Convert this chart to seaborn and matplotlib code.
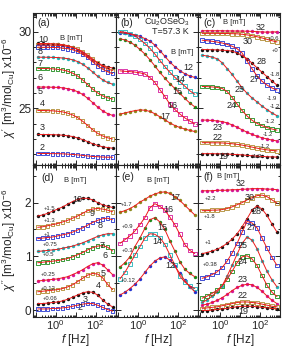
import matplotlib
matplotlib.use("Agg")
import matplotlib.pyplot as plt
import numpy as np
import pandas as pd
import seaborn as sns
from matplotlib.ticker import MultipleLocator, LogLocator, NullFormatter

# ---------------- data ----------------
F_HZ = [0.126, 0.224, 0.398, 0.708, 1.26, 2.24, 3.98, 7.08, 12.6, 22.4, 39.8, 70.8, 126, 224, 398, 708]

# (a) chi' , B = 10..2 mT
a_10 = [29.24, 29.24, 29.23, 29.22, 29.20, 29.16, 29.10, 28.99, 28.84, 28.64, 28.40, 28.16, 27.96, 27.81, 27.70, 27.64]
a_9 = [29.15, 29.14, 29.14, 29.13, 29.12, 29.09, 29.05, 28.98, 28.87, 28.71, 28.48, 28.23, 27.97, 27.74, 27.58, 27.47]
a_8 = [29.00, 28.99, 28.99, 28.98, 28.97, 28.94, 28.90, 28.83, 28.71, 28.54, 28.32, 28.05, 27.78, 27.56, 27.39, 27.27]
a_7 = [28.35, 28.34, 28.34, 28.33, 28.32, 28.29, 28.25, 28.17, 28.06, 27.88, 27.65, 27.38, 27.10, 26.87, 26.69, 26.58]
a_6 = [27.61, 27.61, 27.60, 27.58, 27.55, 27.51, 27.43, 27.30, 27.11, 26.86, 26.56, 26.26, 26.01, 25.82, 25.69, 25.61]
a_5 = [26.40, 26.39, 26.39, 26.38, 26.37, 26.34, 26.29, 26.21, 26.09, 25.91, 25.66, 25.38, 25.09, 24.84, 24.66, 24.54]
a_4 = [24.86, 24.86, 24.85, 24.84, 24.81, 24.77, 24.69, 24.57, 24.40, 24.16, 23.89, 23.61, 23.37, 23.20, 23.08, 23.00]
a_3 = [23.30, 23.29, 23.29, 23.28, 23.27, 23.25, 23.21, 23.16, 23.07, 22.96, 22.83, 22.69, 22.58, 22.49, 22.44, 22.40]
a_2 = [22.05, 22.05, 22.05, 22.04, 22.04, 22.03, 22.01, 21.99, 21.96, 21.93, 21.89, 21.86, 21.84, 21.82, 21.81, 21.81]

# (b) chi' , B = 12..17 mT
b_12 = [29.95, 29.92, 29.87, 29.80, 29.70, 29.56, 29.40, 29.13, 28.78, 28.40, 28.03, 27.72, 27.47, 27.26, 27.12, 27.02]
b_14 = [30.02, 29.97, 29.88, 29.74, 29.50, 29.24, 28.93, 28.55, 28.13, 27.73, 27.36, 27.03, 26.74, 26.45, 26.15, 25.92]
b_15 = [29.55, 29.47, 29.33, 29.13, 28.85, 28.55, 28.18, 27.77, 27.35, 26.97, 26.62, 26.30, 25.98, 25.65, 25.35, 25.10]
b_16 = [27.45, 27.42, 27.40, 27.37, 27.32, 27.25, 27.02, 26.70, 26.22, 25.78, 25.28, 24.93, 24.63, 24.38, 24.17, 23.98]
b_17 = [24.62, 24.70, 24.78, 24.85, 24.90, 24.88, 24.80, 24.65, 24.45, 24.25, 24.05, 23.88, 23.75, 23.65, 23.56, 23.49]

# (c) chi' , B = 32..19 mT
c_32 = [30.07, 30.07, 30.07, 30.07, 30.07, 30.06, 30.06, 30.05, 30.05, 30.04, 30.03, 30.01, 29.99, 29.98, 29.99, 30.00]
c_30 = [29.90, 29.90, 29.90, 29.90, 29.89, 29.89, 29.88, 29.87, 29.84, 29.80, 29.75, 29.68, 29.60, 29.51, 29.42, 29.34]
c_28 = [28.84, 28.84, 28.83, 28.82, 28.80, 28.78, 28.74, 28.62, 28.45, 28.25, 27.95, 27.65, 27.36, 27.07, 26.78, 26.52]
c_27 = [29.45, 29.42, 29.38, 29.33, 29.27, 29.18, 29.06, 28.90, 28.62, 28.10, 27.58, 27.12, 26.77, 26.52, 26.33, 26.20]
c_25 = [28.47, 28.42, 28.35, 28.24, 27.98, 27.60, 27.22, 26.78, 26.35, 25.98, 25.68, 25.42, 25.15, 24.92, 24.70, 24.52]
c_24 = [26.43, 26.42, 26.40, 26.37, 26.30, 26.10, 25.72, 25.28, 24.86, 24.50, 24.22, 24.02, 23.87, 23.75, 23.65, 23.58]
c_23 = [24.24, 24.23, 24.21, 24.18, 24.14, 24.05, 23.92, 23.77, 23.60, 23.44, 23.30, 23.18, 23.08, 23.00, 22.93, 22.87]
c_22 = [22.76, 22.76, 22.75, 22.75, 22.74, 22.72, 22.69, 22.65, 22.60, 22.54, 22.47, 22.40, 22.34, 22.29, 22.25, 22.22]
c_19 = [22.04, 22.04, 22.04, 22.03, 22.03, 22.02, 22.00, 21.98, 21.96, 21.93, 21.90, 21.88, 21.86, 21.84, 21.83, 21.82]

# (d) chi'' (offset included), B = 10..2 mT
d_10 = [1.75, 1.77, 1.80, 1.84, 1.88, 1.92, 1.97, 2.02, 2.06, 2.08, 2.08, 2.05, 2.00, 1.96, 1.93, 1.91]
d_9 = [1.54, 1.55, 1.57, 1.59, 1.61, 1.64, 1.67, 1.71, 1.75, 1.80, 1.85, 1.88, 1.89, 1.88, 1.86, 1.83]
d_8 = [1.33, 1.34, 1.35, 1.36, 1.38, 1.40, 1.42, 1.45, 1.49, 1.53, 1.58, 1.63, 1.67, 1.70, 1.71, 1.68]
d_7 = [1.09, 1.10, 1.11, 1.12, 1.13, 1.15, 1.17, 1.19, 1.22, 1.25, 1.29, 1.33, 1.37, 1.40, 1.42, 1.42]
d_6 = [0.88, 0.89, 0.90, 0.91, 0.92, 0.94, 0.96, 0.99, 1.03, 1.07, 1.12, 1.16, 1.19, 1.20, 1.17, 1.10]
d_5 = [0.54, 0.55, 0.56, 0.57, 0.58, 0.60, 0.62, 0.66, 0.70, 0.75, 0.81, 0.86, 0.88, 0.84, 0.75, 0.66]
d_4 = [0.34, 0.35, 0.36, 0.37, 0.38, 0.40, 0.43, 0.47, 0.53, 0.59, 0.65, 0.68, 0.67, 0.60, 0.48, 0.38]
d_3 = [0.12, 0.12, 0.13, 0.14, 0.15, 0.17, 0.20, 0.24, 0.28, 0.32, 0.34, 0.33, 0.28, 0.19, 0.11, 0.06]
d_2 = [0.02, 0.02, 0.02, 0.03, 0.03, 0.04, 0.05, 0.07, 0.09, 0.11, 0.12, 0.12, 0.09, 0.05, 0.01, -0.02]

# (e) chi'' (offset included), B = 12..17 mT
e_12 = [0.28, 0.33, 0.40, 0.48, 0.58, 0.70, 0.82, 0.91, 0.97, 0.99, 0.93, 0.82, 0.68, 0.55, 0.43, 0.34]
e_14 = [0.58, 0.70, 0.86, 1.02, 1.18, 1.34, 1.42, 1.41, 1.35, 1.22, 1.03, 0.84, 0.63, 0.52, 0.45, 0.40]
e_15 = [0.80, 0.88, 0.99, 1.18, 1.34, 1.52, 1.68, 1.72, 1.64, 1.50, 1.29, 1.10, 0.90, 0.76, 0.68, 0.62]
e_16 = [1.24, 1.31, 1.38, 1.47, 1.59, 1.72, 1.90, 1.98, 1.93, 1.86, 1.73, 1.59, 1.41, 1.22, 1.11, 1.05]
e_17 = [1.82, 1.85, 1.89, 1.94, 2.01, 2.06, 2.12, 2.16, 2.19, 2.20, 2.17, 2.11, 2.04, 1.95, 1.86, 1.77]

# (f) chi'' (offset included), B = 32..19 mT
f_32 = [2.22, 2.22, 2.22, 2.23, 2.23, 2.23, 2.24, 2.24, 2.25, 2.25, 2.26, 2.26, 2.26, 2.25, 2.25, 2.24]
f_30 = [1.85, 1.85, 1.86, 1.86, 1.87, 1.89, 1.92, 1.96, 2.00, 2.05, 2.09, 2.13, 2.14, 2.11, 2.05, 1.99]
f_28 = [1.05, 1.07, 1.10, 1.13, 1.18, 1.24, 1.32, 1.42, 1.55, 1.70, 1.86, 1.94, 1.88, 1.76, 1.60, 1.45]
f_27 = [0.59, 0.62, 0.66, 0.71, 0.79, 0.91, 1.06, 1.24, 1.45, 1.65, 1.62, 1.53, 1.34, 1.15, 0.98, 0.83]
f_25 = [0.14, 0.19, 0.26, 0.34, 0.45, 0.63, 0.83, 1.04, 1.24, 1.36, 1.30, 1.14, 0.92, 0.72, 0.56, 0.43]
f_24 = [0.22, 0.26, 0.31, 0.37, 0.45, 0.57, 0.72, 0.88, 0.99, 1.01, 0.95, 0.83, 0.64, 0.46, 0.33, 0.25]
f_23 = [0.09, 0.11, 0.14, 0.18, 0.23, 0.29, 0.36, 0.42, 0.46, 0.48, 0.47, 0.42, 0.35, 0.26, 0.18, 0.12]
f_22 = [0.03, 0.04, 0.05, 0.06, 0.08, 0.10, 0.12, 0.14, 0.15, 0.15, 0.14, 0.13, 0.11, 0.09, 0.07, 0.06]
f_19 = [-0.01, -0.01, 0.00, 0.01, 0.02, 0.03, 0.05, 0.06, 0.07, 0.07, 0.07, 0.06, 0.05, 0.04, 0.03, 0.02]

# ---------------- style ----------------
BLACK, BLUE, CYAN, GREEN = "#111111", "#2233d0", "#1fb3b8", "#1b8c1b"
MAGENTA, OLIVE, OLIVE_SQ, RED = "#d4189c", "#8c8a1e", "#b08a30", "#ee1a1a"

COL1 = [("10", BLACK, "o"), ("9", OLIVE_SQ, "s"), ("8", BLUE, "s"), ("7", CYAN, "o"), ("6", GREEN, "s"),
        ("5", MAGENTA, "o"), ("4", OLIVE_SQ, "s"), ("3", BLACK, "o"), ("2", BLUE, "s")]
COL2 = [("12", BLUE, "o"), ("14", CYAN, "s"), ("15", GREEN, "o"), ("16", MAGENTA, "s"), ("17", OLIVE, "o")]
COL3 = [("32", MAGENTA, "o"), ("30", OLIVE_SQ, "s"), ("28", BLACK, "o"), ("27", BLUE, "s"), ("25", CYAN, "o"),
        ("24", GREEN, "s"), ("23", MAGENTA, "o"), ("22", OLIVE_SQ, "s"), ("19", BLACK, "o")]

sns.set_theme(style="ticks")
plt.rcParams["font.family"] = ["Liberation Sans", "DejaVu Sans"]
plt.rcParams["mathtext.fontset"] = "custom"
plt.rcParams["mathtext.rm"] = "Liberation Sans"
plt.rcParams["mathtext.it"] = "Liberation Sans:italic"
plt.rcParams["mathtext.bf"] = "Liberation Sans:bold"

W, H = 291, 347
fig = plt.figure(figsize=(W / 100, H / 100), dpi=100)
gs = fig.add_gridspec(2, 3, left=33.3 / W, right=280 / W, top=1 - 13 / H, bottom=1 - 317 / H,
                      wspace=0, hspace=0)


def draw(ax, vals, color, marker):
    df = pd.DataFrame({"f": F_HZ, "chi": vals})
    if marker == "o":
        sns.scatterplot(data=df, x="f", y="chi", ax=ax, marker="o", s=6, color=color,
                        linewidth=0, zorder=2)
    else:
        sns.scatterplot(data=df, x="f", y="chi", ax=ax, marker="s", s=7, facecolors="none",
                        edgecolors=color, linewidth=0.6, zorder=2)
    sns.lineplot(data=df, x="f", y="chi", ax=ax, color=RED, lw=0.7, zorder=3,
                 estimator=None, sort=False)


panels = [
    (0, 0, [a_10, a_9, a_8, a_7, a_6, a_5, a_4, a_3, a_2], COL1),
    (0, 1, [b_12, b_14, b_15, b_16, b_17], COL2),
    (0, 2, [c_32, c_30, c_28, c_27, c_25, c_24, c_23, c_22, c_19], COL3),
    (1, 0, [d_10, d_9, d_8, d_7, d_6, d_5, d_4, d_3, d_2], COL1),
    (1, 1, [e_12, e_14, e_15, e_16, e_17], COL2),
    (1, 2, [f_32, f_30, f_28, f_27, f_25, f_24, f_23, f_22, f_19], COL3),
]

for r, c, series, styles in panels:
    ax = fig.add_subplot(gs[r, c])
    for vals, (_, col, mk) in zip(series, styles):
        draw(ax, vals, col, mk)
    ax.set_xscale("log")
    ax.set_xlim(0.076, 1000)
    if r == 0:
        ax.set_ylim(21.3, 31.23)
        ax.yaxis.set_major_locator(MultipleLocator(5))
        ax.yaxis.set_minor_locator(MultipleLocator(1))
    else:
        ax.set_ylim(-0.13, 2.70)
        ax.yaxis.set_major_locator(MultipleLocator(1))
        ax.yaxis.set_minor_locator(MultipleLocator(0.5))
    ax.set_xticks([0.1, 1, 10, 100, 1000])
    ax.xaxis.set_minor_locator(LogLocator(base=10, subs=np.arange(2, 10), numticks=20))
    ax.xaxis.set_minor_formatter(NullFormatter())
    if r == 1:
        ax.set_xticklabels(["", "$10^0$", "", "$10^2$", ""])
    else:
        ax.set_xticklabels([])
    ax.set_xlabel("")
    if c != 0:
        ax.set_yticklabels([])
    ax.set_ylabel("")
    ax.tick_params(which="both", direction="in", top=True, right=True, labelsize=8.5, width=0.7, pad=1.5)
    ax.tick_params(axis="x", labelsize=8, pad=1)
    ax.tick_params(which="major", length=3.5)
    ax.tick_params(which="minor", length=1.8)
    for sp in ax.spines.values():
        sp.set_linewidth(0.8)


def T(x, y, s, fs=6.5, **kw):
    fig.text(x / W, 1 - y / H, s, fontsize=fs, ha="center", va="center", **kw)


# axis labels
T(9, 88, r"$\chi'$ [m$^3$/mol$_{\mathrm{Cu}}$] x10$^{-6}$", 8.5, rotation=90)
T(9, 240, r"$\chi''$ [m$^3$/mol$_{\mathrm{Cu}}$] x10$^{-6}$", 8.5, rotation=90)
for x in (75, 158, 240):
    T(x, 340, "$f$ [Hz]", 8.5)

# panel (a)
T(44, 23, "(a)", 7.5)
T(71, 38, "B [mT]", 5.5)
for s, x, y in [("10", 43, 39), ("8", 40, 52), ("7", 40, 63), ("6", 40, 77), ("5", 40, 92),
                ("4", 42, 103), ("3", 42, 128), ("2", 42, 147)]:
    T(x, y, s)
# panel (b)
T(127, 23, "(b)", 7.5)
T(167, 22, r"Cu$_2$OSeO$_3$", 6.5)
T(170, 32, "T=57.3 K", 6.5)
T(182, 52, "B [mT]", 5.5)
for s, x, y in [("12", 188, 68), ("14", 180, 80), ("15", 177, 92), ("16", 172, 105), ("17", 165, 117)]:
    T(x, y, s)
# panel (c)
T(210, 23, "(c)", 7.5)
T(234, 23, "B [mT]", 5.5)
for s, x, y in [("32", 261, 27), ("30", 248, 42), ("28", 262, 62), ("27", 255, 80), ("25", 240, 90),
                ("24", 232, 105), ("23", 218, 128), ("22", 218, 137), ("19", 223, 157)]:
    T(x, y, s)
for s, x, y in [("+0.6", 273, 38), ("+0", 275, 50), ("-1.8", 275, 74), ("-1.9", 272, 98),
                ("-1.2", 275, 106), ("-1.2", 270, 122), ("-1.2", 268, 135), ("-1.2", 265, 147),
                ("-1.2", 257, 156)]:
    T(x, y, s, 4.2)
# panel (d)
T(48, 178, "(d)", 7.5)
T(75, 180, "B [mT]", 5.5)
for s, x, y in [("10", 77, 200), ("9", 92, 213), ("8", 100, 226), ("7", 102, 245), ("6", 105, 256),
                ("5", 103, 273), ("4", 98, 285), ("3", 85, 300), ("2", 80, 307)]:
    T(x, y, s)
for s, x, y in [("+1.5", 50, 208), ("+1.3", 50, 221), ("+1", 47, 234), ("+0.75", 50, 244),
                ("+0.5", 48, 255), ("+0.25", 48, 275), ("+0.12", 48, 288), ("+0.06", 50, 299)]:
    T(x, y, s, 4.2)
# panel (e)
T(128, 177, "(e)", 7.5)
T(158, 180, "B [mT]", 5.5)
for s, x, y in [("17", 175, 198), ("16", 168, 210), ("15", 162, 227), ("14", 157, 242), ("12", 170, 265)]:
    T(x, y, s)
for s, x, y in [("+1.7", 127, 205), ("+0.9", 127, 227), ("+0.3", 127, 251), ("+0.12", 128, 281)]:
    T(x, y, s, 4.2)
# panel (f)
T(208, 177, "(f)", 7.5)
T(228, 176, "B [mT]", 5.5)
for s, x, y in [("32", 241, 184), ("30", 250, 197), ("28", 257, 212), ("27", 252, 228), ("25", 243, 245),
                ("24", 243, 262), ("23", 243, 280), ("22", 243, 296), ("19", 243, 311)]:
    T(x, y, s)
for s, x, y in [("+2.2", 210, 198), ("+1.8", 210, 217), ("+1", 208, 242), ("+0.38", 210, 265)]:
    T(x, y, s, 4.2)

fig.savefig("out.png", dpi=100, facecolor="white")
